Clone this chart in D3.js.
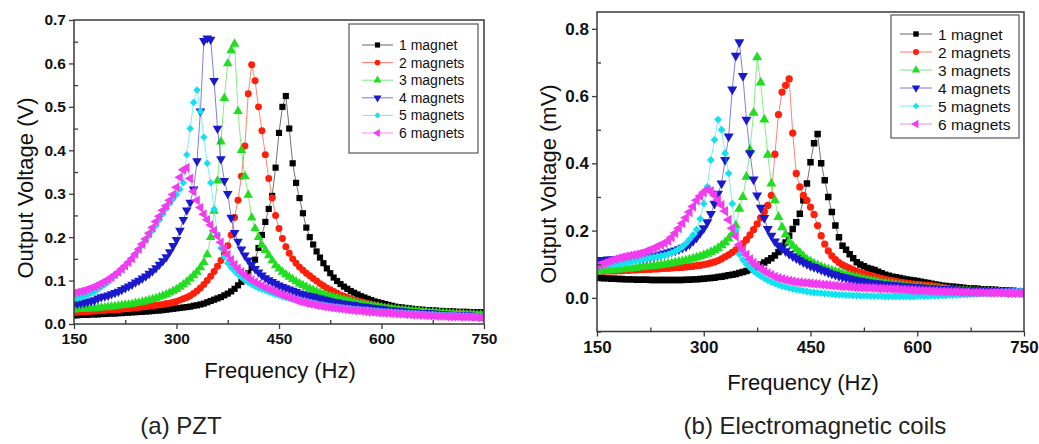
<!DOCTYPE html>
<html>
<head>
<meta charset="utf-8">
<script src="https://cdnjs.cloudflare.com/ajax/libs/d3/7.8.5/d3.min.js"></script>
<style>
  body { margin: 0; background: #fff; }
  svg { display: block; }
  text { font-family: Arial, "Liberation Sans", sans-serif; fill: #111; }
</style>
</head>
<body>
<svg id="chart" width="1039" height="444"></svg>
<script>
// frequency grid (Hz)
var freq = [150,155,160,165,170,175,180,185,190,195,
  200,205,210,215,220,225,230,235,240,245,
  250,255,260,265,270,275,280,285,290,295,
  300,305,310,315,320,325,330,335,340,345,
  350,355,360,365,370,375,380,385,390,395,
  400,405,410,415,420,425,430,435,440,445,
  450,455,460,465,470,475,480,485,490,495,
  500,505,510,515,520,525,530,535,540,545,
  550,555,560,565,570,575,580,585,590,595,
  600,605,610,615,620,625,630,635,640,645,
  650,655,660,665,670,675,680,685,690,695,
  700,705,710,715,720,725,730,735,740,745,
  750];

var legendLabels = ["1 magnet", "2 magnets", "3 magnets", "4 magnets", "5 magnets", "6 magnets"];
var xTicks = [150, 300, 450, 600, 750];
var xMinor = [225, 375, 525, 675];
var pztTicks = [0, 0.1, 0.2, 0.3, 0.4, 0.5, 0.6, 0.7];
var pztMinor = [0.05, 0.15, 0.25, 0.35, 0.45, 0.55, 0.65];
var emTicks = [0, 0.2, 0.4, 0.6, 0.8];
var emMinor = [-0.1, 0.1, 0.3, 0.5, 0.7];

// (a) PZT output voltage, V
var pzt1 = [.020,.020,.021,.021,.021,.022,.022,.022,.023,.023,
  .024,.024,.024,.025,.025,.026,.026,.027,.027,.028,
  .028,.029,.029,.030,.031,.031,.032,.033,.034,.035,
  .036,.037,.038,.039,.040,.042,.043,.045,.047,.050,
  .053,.056,.059,.062,.066,.070,.075,.081,.089,.097,
  .106,.117,.130,.148,.175,.205,.235,.265,.295,.360,
  .440,.500,.525,.450,.370,.325,.290,.255,.222,.200,
  .183,.167,.153,.140,.128,.117,.107,.099,.092,.086,
  .081,.076,.072,.068,.064,.061,.058,.055,.052,.050,
  .048,.046,.044,.042,.040,.039,.038,.037,.036,.035,
  .034,.033,.033,.032,.032,.031,.031,.030,.030,.029,
  .029,.029,.028,.028,.028,.028,.027,.027,.027,.027,
  .027];
var pzt2 = [.027,.027,.028,.028,.029,.029,.030,.030,.031,.031,
  .032,.032,.033,.033,.034,.035,.035,.036,.037,.038,
  .039,.040,.041,.042,.043,.044,.045,.047,.048,.050,
  .052,.055,.058,.061,.065,.070,.076,.083,.091,.100,
  .110,.121,.133,.146,.162,.180,.205,.245,.285,.340,
  .410,.530,.597,.560,.500,.445,.390,.335,.290,.250,
  .220,.197,.178,.163,.150,.140,.131,.124,.117,.111,
  .105,.099,.093,.088,.083,.079,.075,.071,.067,.064,
  .061,.058,.055,.053,.051,.049,.047,.045,.043,.041,
  .040,.038,.037,.036,.034,.033,.032,.031,.031,.030,
  .029,.029,.028,.028,.027,.027,.026,.026,.025,.025,
  .025,.024,.024,.024,.023,.023,.023,.022,.022,.022,
  .022];
var pzt3 = [.033,.034,.034,.035,.035,.036,.036,.037,.038,.038,
  .039,.040,.041,.042,.043,.044,.045,.046,.048,.049,
  .051,.053,.055,.057,.059,.062,.065,.068,.072,.076,
  .080,.085,.091,.097,.104,.112,.120,.130,.142,.160,
  .200,.260,.330,.420,.520,.600,.630,.645,.490,.400,
  .340,.297,.245,.220,.200,.182,.170,.158,.146,.135,
  .127,.120,.114,.108,.103,.098,.093,.089,.085,.081,
  .078,.075,.072,.069,.066,.064,.062,.060,.058,.056,
  .054,.052,.050,.048,.046,.045,.043,.042,.041,.040,
  .038,.037,.036,.035,.034,.033,.032,.032,.031,.030,
  .030,.029,.028,.028,.027,.027,.026,.026,.025,.025,
  .024,.024,.023,.023,.023,.022,.022,.022,.021,.021,
  .021];
var pzt4 = [.046,.047,.048,.049,.051,.053,.055,.059,.062,.064,
  .066,.069,.072,.075,.079,.083,.087,.091,.096,.100,
  .105,.110,.116,.122,.129,.137,.145,.154,.166,.180,
  .194,.215,.240,.262,.280,.310,.375,.490,.652,.658,
  .655,.560,.450,.380,.330,.300,.245,.210,.190,.172,
  .158,.147,.137,.127,.119,.112,.106,.101,.097,.093,
  .089,.086,.083,.080,.077,.074,.071,.069,.067,.065,
  .063,.061,.059,.057,.055,.053,.051,.050,.048,.047,
  .046,.045,.044,.042,.041,.040,.039,.038,.037,.036,
  .035,.034,.033,.032,.031,.030,.030,.029,.028,.028,
  .027,.026,.026,.025,.025,.024,.024,.023,.023,.022,
  .022,.021,.021,.021,.020,.020,.020,.019,.019,.019,
  .019];
var pzt5 = [.057,.059,.061,.064,.067,.071,.075,.080,.085,.091,
  .097,.104,.111,.118,.126,.134,.143,.152,.162,.172,
  .182,.192,.203,.215,.227,.240,.253,.266,.278,.288,
  .298,.310,.325,.390,.450,.510,.539,.490,.430,.370,
  .325,.265,.205,.175,.155,.140,.130,.122,.114,.107,
  .101,.096,.091,.087,.083,.080,.077,.074,.071,.068,
  .066,.063,.061,.059,.057,.055,.054,.052,.050,.049,
  .047,.046,.044,.043,.042,.041,.040,.039,.038,.037,
  .036,.035,.034,.034,.033,.032,.032,.031,.030,.030,
  .029,.028,.028,.027,.027,.026,.026,.025,.025,.024,
  .024,.023,.023,.022,.022,.022,.021,.021,.021,.020,
  .020,.020,.019,.019,.019,.019,.018,.018,.018,.018,
  .018];
var pzt6 = [.071,.073,.075,.077,.080,.083,.086,.090,.094,.098,
  .103,.108,.114,.120,.127,.134,.142,.151,.161,.172,
  .184,.196,.209,.222,.236,.248,.262,.272,.285,.298,
  .315,.338,.355,.360,.335,.305,.285,.268,.253,.240,
  .228,.215,.202,.188,.174,.160,.148,.137,.128,.120,
  .113,.107,.101,.096,.092,.088,.084,.080,.077,.073,
  .070,.067,.064,.061,.058,.055,.052,.050,.048,.046,
  .045,.043,.042,.040,.039,.038,.037,.036,.035,.034,
  .033,.032,.031,.031,.030,.029,.028,.028,.027,.026,
  .026,.025,.025,.024,.024,.023,.023,.022,.022,.021,
  .021,.020,.020,.019,.019,.019,.018,.018,.018,.017,
  .017,.017,.017,.016,.016,.016,.016,.016,.015,.015,
  .015];

// (b) electromagnetic coils output voltage, mV
var em1 = [.060,.059,.058,.058,.057,.057,.056,.056,.055,.055,
  .055,.054,.054,.054,.054,.053,.053,.053,.053,.053,
  .053,.053,.053,.053,.053,.054,.054,.055,.055,.056,
  .057,.058,.059,.060,.062,.063,.065,.067,.069,.071,
  .074,.077,.080,.084,.089,.094,.099,.105,.111,.118,
  .126,.136,.148,.165,.185,.205,.225,.250,.290,.340,
  .403,.460,.487,.400,.350,.300,.255,.215,.180,.155,
  .143,.130,.118,.106,.099,.094,.089,.086,.083,.078,
  .073,.069,.066,.063,.061,.059,.057,.055,.053,.052,
  .050,.048,.046,.044,.042,.040,.038,.036,.035,.034,
  .033,.032,.031,.030,.029,.028,.028,.027,.026,.025,
  .025,.024,.024,.023,.022,.022,.021,.021,.020,.020,
  .019];
var em2 = [.079,.079,.079,.080,.080,.080,.081,.081,.082,.082,
  .083,.083,.084,.084,.085,.085,.086,.086,.087,.088,
  .088,.089,.090,.090,.091,.092,.093,.094,.096,.097,
  .099,.101,.104,.107,.111,.116,.122,.128,.135,.143,
  .151,.161,.173,.187,.203,.220,.238,.256,.275,.305,
  .427,.545,.612,.632,.651,.490,.370,.330,.305,.290,
  .270,.248,.215,.185,.160,.140,.125,.114,.105,.098,
  .093,.088,.083,.079,.075,.072,.069,.066,.063,.060,
  .058,.055,.053,.051,.049,.047,.045,.044,.042,.041,
  .040,.039,.038,.037,.036,.035,.033,.031,.029,.027,
  .025,.024,.023,.022,.021,.021,.020,.020,.019,.019,
  .018,.018,.017,.017,.017,.016,.016,.016,.016,.015,
  .015];
var em3 = [.078,.079,.080,.081,.082,.083,.084,.085,.086,.087,
  .088,.089,.091,.092,.093,.094,.095,.096,.098,.099,
  .101,.103,.105,.107,.109,.111,.114,.117,.120,.123,
  .127,.131,.136,.141,.148,.156,.165,.176,.190,.215,
  .265,.300,.360,.440,.550,.715,.640,.530,.425,.340,
  .290,.240,.210,.188,.167,.155,.144,.134,.124,.114,
  .108,.102,.097,.092,.088,.084,.081,.078,.075,.072,
  .069,.066,.063,.060,.058,.055,.053,.051,.049,.047,
  .045,.043,.042,.040,.039,.037,.036,.034,.033,.032,
  .031,.030,.029,.028,.027,.026,.025,.024,.024,.023,
  .022,.022,.021,.021,.020,.020,.019,.019,.018,.018,
  .018,.017,.017,.017,.016,.016,.016,.016,.015,.015,
  .015];
var em4 = [.113,.113,.113,.114,.114,.114,.115,.115,.116,.116,
  .117,.117,.118,.119,.120,.122,.124,.126,.129,.132,
  .135,.138,.141,.145,.149,.153,.160,.169,.180,.193,
  .207,.225,.250,.280,.310,.340,.410,.480,.620,.720,
  .760,.660,.530,.430,.352,.305,.268,.238,.205,.185,
  .168,.156,.147,.139,.131,.124,.118,.112,.106,.101,
  .096,.092,.088,.084,.080,.076,.072,.069,.065,.062,
  .060,.058,.055,.053,.051,.049,.047,.045,.044,.043,
  .041,.040,.039,.038,.037,.036,.035,.034,.033,.032,
  .031,.031,.030,.029,.029,.028,.027,.027,.026,.026,
  .025,.025,.024,.024,.023,.023,.023,.022,.022,.022,
  .021,.021,.021,.021,.020,.020,.020,.020,.020,.020,
  .020];
var em5 = [.098,.098,.098,.099,.099,.100,.101,.102,.104,.106,
  .108,.110,.113,.115,.117,.119,.121,.123,.125,.127,
  .130,.134,.139,.145,.152,.162,.174,.187,.203,.235,
  .280,.330,.410,.470,.530,.500,.430,.370,.280,.200,
  .130,.113,.100,.090,.080,.072,.065,.058,.052,.047,
  .043,.039,.035,.032,.029,.027,.025,.023,.021,.019,
  .017,.016,.015,.014,.013,.012,.011,.010,.009,.009,
  .008,.008,.007,.007,.006,.006,.006,.005,.005,.005,
  .005,.004,.004,.004,.004,.004,.004,.004,.004,.004,
  .005,.005,.005,.005,.006,.006,.006,.007,.007,.008,
  .008,.009,.009,.010,.010,.011,.012,.012,.013,.014,
  .014,.015,.016,.016,.017,.018,.018,.019,.020,.020,
  .021];
var em6 = [.095,.099,.103,.107,.111,.115,.118,.121,.123,.125,
  .127,.129,.132,.135,.139,.143,.148,.153,.158,.163,
  .170,.180,.193,.207,.222,.238,.255,.272,.290,.303,
  .314,.322,.318,.305,.291,.276,.258,.232,.207,.183,
  .158,.142,.128,.115,.104,.095,.087,.080,.073,.068,
  .063,.059,.056,.053,.051,.049,.047,.046,.045,.044,
  .043,.042,.041,.040,.039,.038,.037,.036,.035,.034,
  .034,.033,.032,.031,.031,.030,.030,.029,.029,.028,
  .028,.027,.027,.026,.026,.025,.025,.024,.023,.023,
  .022,.022,.021,.021,.020,.020,.019,.019,.019,.018,
  .018,.018,.017,.017,.017,.016,.016,.016,.016,.015,
  .015,.015,.015,.015,.015,.014,.014,.014,.014,.014,
  .014];

var colors = ["#000000", "#ff1f0a", "#22dd22", "#1a1acc", "#12e2f0", "#f23cf0"];
var markers = [
  {type: d3.symbolSquare, size: 38, rot: 0},
  {type: d3.symbolCircle, size: 38, rot: 0},
  {type: d3.symbolTriangle, size: 40, rot: 0},
  {type: d3.symbolTriangle, size: 40, rot: 180},
  {type: d3.symbolSquare, size: 28, rot: 45},
  {type: d3.symbolTriangle, size: 40, rot: -90}
];

var svg = d3.select("#chart");

function drawPanel(p) {
  var x = d3.scaleLinear().domain([150, 750]).range([p.x0, p.x1]);
  var y = d3.scaleLinear().domain(p.yDomain).range([p.y0, p.y1]);
  var g = svg.append("g");

  svg.append("clipPath").attr("id", "clip-" + p.id)
    .append("rect")
      .attr("x", p.x0).attr("y", p.y1)
      .attr("width", p.x1 - p.x0).attr("height", p.y0 - p.y1);

  var plot = g.append("g").attr("clip-path", "url(#clip-" + p.id + ")");

  var line = d3.line()
    .x(function(d, i) { return x(freq[i]); })
    .y(function(d) { return y(d); });

  p.series.forEach(function(vals, k) {
    var s = plot.append("g").attr("class", "series");
    s.append("path")
      .attr("d", line(vals))
      .attr("fill", "none")
      .attr("stroke", colors[k])
      .attr("stroke-width", 0.8)
      .attr("stroke-opacity", 0.7);
    var sym = d3.symbol().type(markers[k].type).size(markers[k].size * p.mScale);
    s.selectAll("path.pt")
      .data(vals)
      .enter().append("path")
        .attr("class", "pt")
        .attr("d", sym)
        .attr("fill", colors[k])
        .attr("transform", function(d, i) {
          return "translate(" + x(freq[i]) + "," + y(d) + ") rotate(" + markers[k].rot + ")";
        });
  });

  // frame
  g.append("rect")
    .attr("x", p.x0).attr("y", p.y1)
    .attr("width", p.x1 - p.x0).attr("height", p.y0 - p.y1)
    .attr("fill", "none").attr("stroke", "#3a3a3a").attr("stroke-width", 1.5);

  var xAxis = g.append("g")
    .attr("transform", "translate(0," + p.y0 + ")")
    .call(d3.axisBottom(x).tickValues(xTicks).tickSize(5).tickSizeOuter(0).tickPadding(4));
  var xMin = g.append("g")
    .attr("transform", "translate(0," + p.y0 + ")")
    .call(d3.axisBottom(x).tickValues(xMinor).tickSize(-4).tickSizeOuter(0).tickFormat(""));
  var yAxis = g.append("g")
    .attr("transform", "translate(" + p.x0 + ",0)")
    .call(d3.axisLeft(y).tickValues(p.yTicks).tickFormat(d3.format(".1f")).tickSize(5).tickSizeOuter(0).tickPadding(3));
  var yMin = g.append("g")
    .attr("transform", "translate(" + p.x0 + ",0)")
    .call(d3.axisLeft(y).tickValues(p.yMinor).tickSize(-4).tickSizeOuter(0).tickFormat(""));

  [xAxis, xMin, yAxis, yMin].forEach(function(a) {
    a.select(".domain").remove();
    a.selectAll("line").attr("stroke", "#3a3a3a").attr("stroke-width", 1.3);
    a.selectAll("text")
      .attr("fill", "#1a1a1a")
      .style("font-family", "Arial, 'Liberation Sans', sans-serif")
      .style("font-size", p.tickFont + "px")
      .style("font-weight", "bold");
  });

  g.append("text")
    .attr("transform", "translate(" + p.yTitleX + "," + p.yTitleY + ") rotate(-90)")
    .attr("text-anchor", "middle")
    .style("font-size", "22px")
    .text(p.yTitle);

  g.append("text")
    .attr("x", p.xTitleX).attr("y", p.xTitleY)
    .attr("text-anchor", "middle")
    .style("font-size", "22px")
    .text("Frequency (Hz)");

  // legend
  var lg = g.append("g");
  lg.append("rect")
    .attr("x", p.lg.x).attr("y", p.lg.y)
    .attr("width", p.lg.w).attr("height", p.lg.h)
    .attr("fill", "#fff").attr("stroke", "#555").attr("stroke-width", 1.2);
  legendLabels.forEach(function(name, k) {
    var ry = p.lg.row0 + k * p.lg.step;
    lg.append("line")
      .attr("x1", p.lg.lx0).attr("x2", p.lg.lx1)
      .attr("y1", ry).attr("y2", ry)
      .attr("stroke", colors[k]).attr("stroke-opacity", 0.6).attr("stroke-width", 1);
    lg.append("path")
      .attr("d", d3.symbol().type(markers[k].type).size(markers[k].size * 0.7 * p.mScale))
      .attr("fill", colors[k])
      .attr("transform", "translate(" + ((p.lg.lx0 + p.lg.lx1) / 2) + "," + ry + ") rotate(" + markers[k].rot + ")");
    lg.append("text")
      .attr("x", p.lg.tx).attr("y", ry)
      .attr("dy", "0.36em")
      .style("font-size", p.lg.font + "px")
      .text(name);
  });

  g.append("text")
    .attr("x", p.capX).attr("y", 434)
    .attr("text-anchor", "middle")
    .style("font-size", "24px")
    .style("fill", "#222")
    .text(p.caption);
}

drawPanel({
  id: "pzt", x0: 74, x1: 484, y0: 324, y1: 20,
  yDomain: [0, 0.7], yTicks: pztTicks, yMinor: pztMinor,
  series: [pzt1, pzt2, pzt3, pzt4, pzt5, pzt6],
  mScale: 1, tickFont: 15.5,
  yTitle: "Output Voltage (V)", yTitleX: 33, yTitleY: 188,
  xTitleX: 280, xTitleY: 378,
  lg: {x: 349, y: 24, w: 129, h: 129, row0: 45, step: 17.6, lx0: 362, lx1: 393, tx: 399, font: 14},
  caption: "(a) PZT", capX: 181
});

drawPanel({
  id: "em", x0: 597, x1: 1024, y0: 331.5, y1: 12,
  yDomain: [-0.1, 0.85], yTicks: emTicks, yMinor: emMinor,
  series: [em1, em2, em3, em4, em5, em6],
  mScale: 1.1, tickFont: 17,
  yTitle: "Output Voltage (mV)", yTitleX: 556, yTitleY: 184,
  xTitleX: 803, xTitleY: 390,
  lg: {x: 891, y: 15, w: 128, h: 123, row0: 34, step: 18, lx0: 900, lx1: 932, tx: 938, font: 15.5},
  caption: "(b) Electromagnetic coils", capX: 815
});
</script>
</body>
</html>
